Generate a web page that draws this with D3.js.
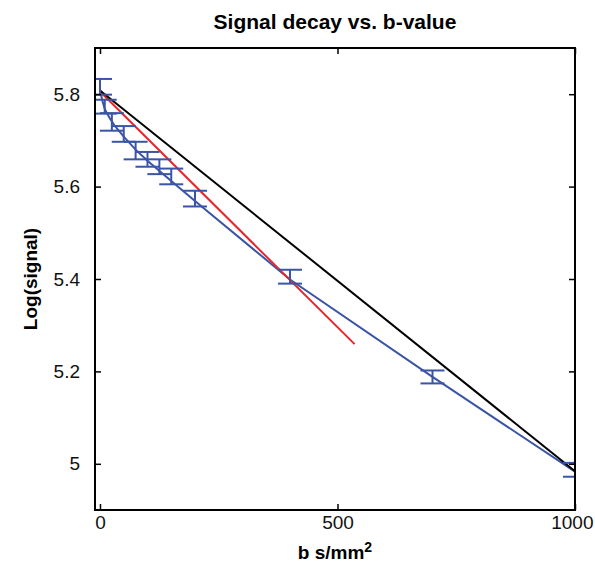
<!DOCTYPE html>
<html lang="en">
<head>
    <meta charset="UTF-8">
    <title>Signal decay vs. b-value</title>
    <style>
        body { margin: 0; background: #fff; }
        text { font-family: "Liberation Sans", Arial, sans-serif; }
    </style>
</head>
<body>
<svg></svg>
<script src="https://d3js.org/d3.v7.min.js"></script>
<script>
    // measured points (mean +/- error)
    var bValues = [0, 10, 25, 50, 75, 100, 125, 150, 200, 400, 700, 1000];
    var meanSignal = [5.816, 5.773, 5.740, 5.714, 5.678, 5.659, 5.643, 5.622, 5.574, 5.405, 5.188, 4.987];
    var errSignal = [0.017, 0.015, 0.019, 0.017, 0.019, 0.016, 0.016, 0.017, 0.017, 0.015, 0.014, 0.015];

    // blue fit curve
    var fitB = [0, 5, 10, 20, 30, 50, 75, 100, 150, 200, 400, 700, 1000];
    var fitSignal = [5.810, 5.786, 5.768, 5.749, 5.733, 5.708, 5.680, 5.656, 5.612, 5.569, 5.399, 5.188, 4.983];

    // red line (low b) and black line (two point)
    var redB = [0, 536];
    var redSignal = [5.806, 5.259];
    var blackB = [0, 1000];
    var blackSignal = [5.808, 4.984];

    var xTicks = [0, 500, 1000];
    var yTicks = [5, 5.2, 5.4, 5.6, 5.8];

    var width = 595, height = 572;
    var mLeft = 95, mRight = 575, mTop = 48, mBottom = 510;

    var svg = d3.select("svg")
        .attr("width", width)
        .attr("height", height);

    var xScale = d3.scaleLinear().domain([-10.5, 1000]).range([mLeft, mRight]);
    var yScale = d3.scaleLinear().domain([4.9, 5.9]).range([mBottom, mTop]);

    var blue = "#3a55a5";

    // lines
    var line = d3.line()
        .x(function (d) { return xScale(d[0]); })
        .y(function (d) { return yScale(d[1]); });

    svg.append("path")
        .datum(d3.zip(fitB, fitSignal))
        .attr("d", line)
        .attr("fill", "none")
        .attr("stroke", blue)
        .attr("stroke-width", 2);

    svg.append("path")
        .datum(d3.zip(redB, redSignal))
        .attr("d", line)
        .attr("fill", "none")
        .attr("stroke", "#e8252b")
        .attr("stroke-width", 2);

    svg.append("path")
        .datum(d3.zip(blackB, blackSignal))
        .attr("d", line)
        .attr("fill", "none")
        .attr("stroke", "#000")
        .attr("stroke-width", 2);

    // error bars
    var capHalf = 12;
    var bars = svg.append("g")
        .selectAll("g")
        .data(d3.zip(bValues, meanSignal, errSignal))
        .enter().append("g")
        .attr("stroke", blue)
        .attr("stroke-width", 2);

    bars.append("line")
        .attr("x1", function (d) { return xScale(d[0]); })
        .attr("x2", function (d) { return xScale(d[0]); })
        .attr("y1", function (d) { return yScale(d[1] + d[2]); })
        .attr("y2", function (d) { return yScale(d[1] - d[2]); });

    [1, -1].forEach(function (s) {
        bars.append("line")
            .attr("x1", function (d) { return Math.max(mLeft, xScale(d[0]) - capHalf); })
            .attr("x2", function (d) { return Math.min(mRight, xScale(d[0]) + capHalf); })
            .attr("y1", function (d) { return yScale(d[1] + s * d[2]); })
            .attr("y2", function (d) { return yScale(d[1] + s * d[2]); });
    });

    // axes with inward ticks on all sides
    var fmt = d3.format("~g");
    var xAxis = d3.axisBottom(xScale).tickValues(xTicks).tickSize(-6).tickPadding(6).tickFormat(fmt);
    var yAxis = d3.axisLeft(yScale).tickValues(yTicks).tickSize(-6).tickPadding(15).tickFormat(fmt);

    svg.append("g").attr("transform", "translate(0," + mBottom + ")").call(xAxis);
    svg.append("g").attr("transform", "translate(" + mLeft + ",0)").call(yAxis);
    svg.append("g").attr("transform", "translate(0," + mTop + ")")
        .call(d3.axisTop(xScale).tickValues(xTicks).tickSize(-6).tickFormat(""));
    svg.append("g").attr("transform", "translate(" + mRight + ",0)")
        .call(d3.axisRight(yScale).tickValues(yTicks).tickSize(-6).tickFormat(""));

    svg.selectAll(".domain").remove();
    svg.selectAll(".tick line").attr("stroke", "#000").attr("stroke-width", 1.5);
    svg.selectAll(".tick text")
        .attr("fill", "#111")
        .style("font-family", "'Liberation Sans', Arial, sans-serif")
        .style("font-size", "19px");
    // keep the last x label inside the page like the reference
    svg.selectAll(".tick text").filter(function (d) { return d === 1000; })
        .attr("text-anchor", "end").attr("dx", "18");

    // frame
    svg.append("rect")
        .attr("x", mLeft).attr("y", mTop)
        .attr("width", mRight - mLeft).attr("height", mBottom - mTop)
        .attr("fill", "none")
        .attr("stroke", "#000")
        .attr("stroke-width", 2);

    // title and labels
    svg.append("text")
        .attr("x", (mLeft + mRight) / 2).attr("y", 29)
        .attr("text-anchor", "middle")
        .style("font-weight", "bold").style("font-size", "21px")
        .text("Signal decay vs. b-value");

    svg.append("text")
        .attr("transform", "translate(37," + ((mTop + mBottom) / 2) + ") rotate(-90)")
        .attr("text-anchor", "middle")
        .style("font-weight", "bold").style("font-size", "19px")
        .text("Log(signal)");

    var xl = svg.append("text")
        .attr("x", (mLeft + mRight) / 2).attr("y", 559)
        .attr("text-anchor", "middle")
        .style("font-weight", "bold").style("font-size", "19px");
    xl.append("tspan").text("b s/mm");
    xl.append("tspan").attr("dy", -7).style("font-size", "14px").text("2");
</script>
</body>
</html>
